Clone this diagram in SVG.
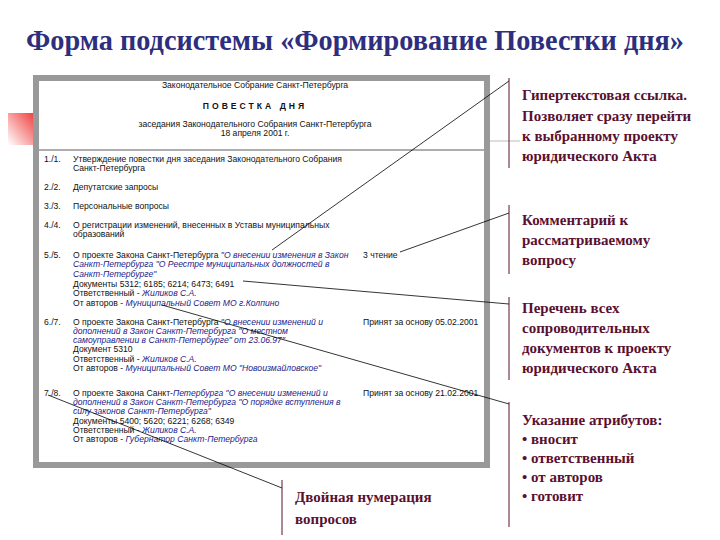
<svg xmlns="http://www.w3.org/2000/svg" width="720" height="540" viewBox="0 0 720 540">
<defs>
<linearGradient id="rg" x1="1" y1="0" x2="0" y2="1"><stop offset="0" stop-color="#f04040"/><stop offset="1" stop-color="#ffffff"/></linearGradient>
<style>
.d{font-family:"Liberation Sans",Arial,sans-serif;font-size:8.6px;fill:#111}
.b{fill:#1c1c8a;font-style:italic}
.c{font-family:"Liberation Serif","DejaVu Serif","Times New Roman",serif;font-size:15px;font-weight:bold;fill:#5a1030}
.t{font-family:"Liberation Serif","DejaVu Serif","Times New Roman",serif;font-size:29px;font-weight:bold;fill:#2e2e7e}
.v{stroke:#5a1030;stroke-width:1}
.l{stroke:#000;stroke-width:0.8;fill:none}
</style>
</defs>
<rect width="720" height="540" fill="#fff"/>
<text class="t" x="355" y="50" text-anchor="middle" textLength="658" lengthAdjust="spacingAndGlyphs">Форма подсистемы «Формирование Повестки дня»</text>
<rect x="8" y="113" width="26" height="32" fill="url(#rg)"/>
<rect x="33" y="84" width="3" height="30" fill="#f0e060"/>
<line x1="490" y1="141" x2="520" y2="141" stroke="#ddd" stroke-width="2"/>
<g id="document">
<rect x="36" y="78" width="451" height="387" fill="#fff" stroke="#999" stroke-width="6"/>
<text class="d" x="255" y="88" text-anchor="middle">Законодательное Собрание Санкт-Петербурга</text>
<text class="d" x="255" y="109" text-anchor="middle" font-weight="bold" font-size="10" letter-spacing="3">ПОВЕСТКА ДНЯ</text>
<text class="d" x="255" y="127" text-anchor="middle">заседания Законодательного Собрания Санкт-Петербурга</text>
<text class="d" x="255" y="136" text-anchor="middle">18 апреля 2001 г.</text>
<line x1="39" y1="150" x2="484" y2="150" stroke="#333" stroke-width="0.8"/>
<text class="d" x="44" y="162">1./1.</text><text class="d" x="73" y="162">Утверждение повестки дня заседания Законодательного Собрания</text>
<text class="d" x="73" y="171">Санкт-Петербурга</text>
<text class="d" x="44" y="190">2./2.</text><text class="d" x="73" y="190">Депутатские запросы</text>
<text class="d" x="44" y="209">3./3.</text><text class="d" x="73" y="209">Персональные вопросы</text>
<text class="d" x="44" y="228">4./4.</text><text class="d" x="73" y="228">О регистрации изменений, внесенных в Уставы муниципальных</text>
<text class="d" x="73" y="237">образований</text>
<text class="d" x="44" y="258">5./5.</text><text class="d" x="73" y="258">О проекте Закона Санкт-Петербурга <tspan class="b">"О внесении изменения в Закон</tspan></text>
<text class="d" x="363" y="258">3 чтение</text>
<text class="d b" x="73" y="267">Санкт-Петербурга "О Реестре муниципальных должностей в</text>
<text class="d b" x="73" y="277">Санкт-Петербурге"</text>
<text class="d" x="73" y="287">Документы 5312; 6185; 6214; 6473; 6491</text>
<text class="d" x="73" y="296">Ответственный - <tspan class="b">Жиликов С.А.</tspan></text>
<text class="d" x="73" y="306">От авторов - <tspan class="b">Муниципальный Совет МО г.Колпино</tspan></text>
<text class="d" x="44" y="325">6./7.</text><text class="d" x="73" y="325">О проекте Закона Санкт-Петербурга <tspan class="b">"О внесении изменений и</tspan></text>
<text class="d" x="363" y="325">Принят за основу 05.02.2001</text>
<text class="d b" x="73" y="334">дополнений в Закон Санкт-Петербурга "О местном</text>
<text class="d b" x="73" y="343">самоуправлении в Санкт-Петербурге" от 23.06.97"</text>
<text class="d" x="73" y="352">Документ 5310</text>
<text class="d" x="73" y="362">Ответственный - <tspan class="b">Жиликов С.А.</tspan></text>
<text class="d" x="73" y="371">От авторов - <tspan class="b">Муниципальный Совет МО "Новоизмайловское"</tspan></text>
<text class="d" x="44" y="396">7./8.</text><text class="d" x="73" y="396">О проекте Закона Санкт-<tspan class="b">Петербурга "О внесении изменений и</tspan></text>
<text class="d" x="363" y="396">Принят за основу 21.02.2001</text>
<text class="d b" x="73" y="405">дополнений в Закон Санкт-Петербурга "О порядке вступления в</text>
<text class="d b" x="73" y="414">силу законов Санкт-Петербурга"</text>
<text class="d" x="73" y="424">Документы 5400; 5620; 6221; 6268; 6349</text>
<text class="d" x="73" y="433">Ответственный - <tspan class="b">Жиликов С.А.</tspan></text>
<text class="d" x="73" y="442">От авторов - <tspan class="b">Губернатор Санкт-Петербурга</tspan></text>
</g>
<g id="connectors">
<line class="l" x1="509" y1="81" x2="272" y2="250"/>
<line class="l" x1="509" y1="213" x2="400" y2="252"/>
<line class="l" x1="243" y1="281" x2="509" y2="304"/>
<line class="l" x1="162" y1="305" x2="509" y2="404"/>
<line class="l" x1="48" y1="395" x2="282" y2="488"/>
</g>
<g id="callout-hyperlink">
<line class="v" x1="509" y1="78" x2="509" y2="168"/>
<text class="c" x="522" y="100">Гипертекстовая ссылка.</text>
<text class="c" x="522" y="121">Позволяет сразу перейти</text>
<text class="c" x="522" y="141">к выбранному проекту</text>
<text class="c" x="522" y="161">юридического Акта</text>
</g>
<g id="callout-comment">
<line class="v" x1="509" y1="205" x2="509" y2="274"/>
<text class="c" x="522" y="225">Комментарий к</text>
<text class="c" x="522" y="245">рассматриваемому</text>
<text class="c" x="522" y="265">вопросу</text>
</g>
<g id="callout-docs">
<line class="v" x1="509" y1="297" x2="509" y2="380"/>
<text class="c" x="522" y="313">Перечень всех</text>
<text class="c" x="522" y="333">сопроводительных</text>
<text class="c" x="522" y="353">документов к проекту</text>
<text class="c" x="522" y="373">юридического Акта</text>
</g>
<g id="callout-attrs">
<line class="v" x1="509" y1="402" x2="509" y2="527"/>
<text class="c" x="522" y="425">Указание атрибутов:</text>
<text class="c" x="522" y="444">• вносит</text>
<text class="c" x="522" y="463">• ответственный</text>
<text class="c" x="522" y="482">• от авторов</text>
<text class="c" x="522" y="501">• готовит</text>
</g>
<g id="callout-numbering">
<line class="v" x1="282" y1="480" x2="282" y2="535"/>
<text class="c" x="295" y="502">Двойная нумерация</text>
<text class="c" x="295" y="524">вопросов</text>
</g>
</svg>
